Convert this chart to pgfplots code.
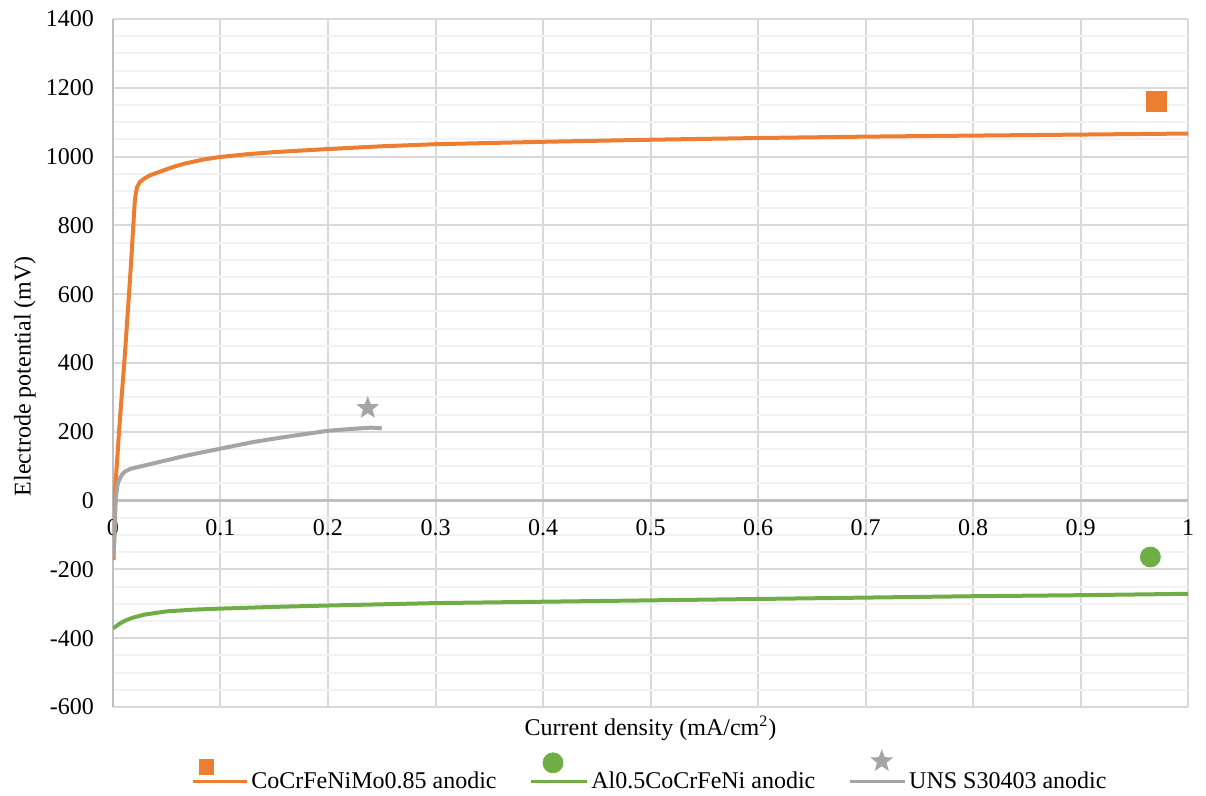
\documentclass[border=0pt]{standalone}
\usepackage{fontspec}
\setmainfont{Liberation Serif}
\usepackage{pgfplots}
\pgfplotsset{compat=1.18}
\definecolor{cOr}{HTML}{ED7D31}
\definecolor{cGr}{HTML}{70AD47}
\definecolor{cGy}{HTML}{A5A5A5}
\definecolor{gMaj}{HTML}{D9D9D9}
\definecolor{gMin}{HTML}{F2F2F2}
\definecolor{axC}{HTML}{BFBFBF}
\pgfdeclareplotmark{fstar}{%
  \pgfpathmoveto{\pgfpointpolar{90}{\pgfplotmarksize}}%
  \pgfpathlineto{\pgfpointpolar{126}{0.42\pgfplotmarksize}}%
  \pgfpathlineto{\pgfpointpolar{162}{\pgfplotmarksize}}%
  \pgfpathlineto{\pgfpointpolar{198}{0.42\pgfplotmarksize}}%
  \pgfpathlineto{\pgfpointpolar{234}{\pgfplotmarksize}}%
  \pgfpathlineto{\pgfpointpolar{270}{0.42\pgfplotmarksize}}%
  \pgfpathlineto{\pgfpointpolar{306}{\pgfplotmarksize}}%
  \pgfpathlineto{\pgfpointpolar{342}{0.42\pgfplotmarksize}}%
  \pgfpathlineto{\pgfpointpolar{18}{\pgfplotmarksize}}%
  \pgfpathlineto{\pgfpointpolar{54}{0.42\pgfplotmarksize}}%
  \pgfpathclose\pgfusepathqfill}
\begin{document}
\begin{tikzpicture}[font=\fontsize{12}{14.4}\selectfont]
\useasboundingbox (-56.5pt,-44.5pt) rectangle (546.5pt,353.5pt);
\begin{axis}[
  scale only axis, width=537.5pt, height=344pt,
  xmin=0, xmax=1, ymin=-600, ymax=1400,
  axis x line=middle, axis y line=left,
  axis line style={-, draw=axC, line width=1.2pt},
  hide obscured x ticks=false, hide obscured y ticks=false,
  xtick={0,0.1,...,1.01}, ytick={-600,-400,...,1400},
  minor y tick num=3,
  xmajorgrids, ymajorgrids, yminorgrids,
  major grid style={draw=gMaj, line width=1pt},
  minor grid style={draw=gMin, line width=1pt},
  major tick length=0pt, minor tick length=0pt,
  scaled ticks=false,
  /pgf/number format/assume math mode=true,
  /pgf/number format/1000 sep={},
  xticklabel style={yshift=-6pt, font=\fontsize{12}{14.4}\selectfont},
  yticklabel style={xshift=-6pt, font=\fontsize{12}{14.4}\selectfont},
  xlabel={Current density (mA/cm\textsuperscript{2})},
  ylabel={Electrode potential (mV)},
  xlabel style={at={(axis description cs:0.5,0)}, anchor=north, yshift=-1pt},
  ylabel style={at={(axis description cs:-0.0819,0.481)}, anchor=center, rotate=0},
  legend columns=3,
  legend style={at={(axis description cs:0.5,-0.055)}, anchor=north, draw=none, fill=none,
    font=\fontsize{12}{14.4}\selectfont, column sep=0pt,
    /tikz/every even column/.append style={column sep=15pt},
    nodes={inner xsep=1.5pt}},
]
% Orange
\addplot[cOr, line width=2pt, forget plot] coordinates {
(0.0005,-173) (0.0012,0) (0.0035,100) (0.0056,200) (0.008,300) (0.0105,400) (0.0127,500) (0.0149,600)
(0.017,700) (0.0189,800) (0.0203,870) (0.0213,895) (0.0225,912) (0.025,926) (0.029,936) (0.034,945) (0.04,952)
(0.048,961) (0.057,971) (0.067,980) (0.085,992) (0.1,999) (0.125,1007) (0.15,1013) (0.2,1022)
(0.25,1030) (0.3,1036) (0.4,1043) (0.5,1049) (0.6,1054) (0.7,1058) (0.8,1061) (0.9,1064) (1.0,1067)
};
% Green
\addplot[cGr, line width=2pt, forget plot] coordinates {
(0,-371) (0.003,-365) (0.006,-358) (0.01,-351) (0.015,-344) (0.02,-339) (0.03,-331) (0.05,-322)
(0.075,-317) (0.1,-314) (0.15,-309) (0.2,-305) (0.3,-298) (0.4,-294) (0.5,-290) (0.6,-286)
(0.7,-282) (0.8,-278) (0.9,-275) (1.0,-271)
};
% Gray
\addplot[cGy, line width=2pt, forget plot] coordinates {
(0.0005,-165) (0.0015,-100) (0.0022,-20) (0.0028,10) (0.0038,38) (0.005,55) (0.007,68) (0.009,78)
(0.011,84) (0.016,92) (0.024,98) (0.04,110) (0.067,130) (0.1,151) (0.13,170) (0.16,185)
(0.2,203) (0.22,208) (0.24,212) (0.25,210)
};
% markers
\addplot[only marks, mark=square*, mark size=5pt, color=cOr, forget plot] coordinates {(0.971,1159)};
\addplot[only marks, mark=*, mark size=5pt, color=cGr, forget plot] coordinates {(0.965,-164)};
\addplot[only marks, mark=fstar, mark size=6pt, color=cGy, forget plot] coordinates {(0.237,269)};
% legend
\addlegendimage{legend image code/.code={
  \draw[cOr, line width=1.4pt] (0pt,0pt) -- (27pt,0pt);
  \path[color=cOr] plot[mark=square*, mark size=3.6pt] coordinates {(6.75pt,7.5pt)};}}
\addlegendentry{CoCrFeNiMo0.85 anodic}
\addlegendimage{legend image code/.code={
  \draw[cGr, line width=1.4pt] (0pt,0pt) -- (28pt,0pt);
  \path[color=cGr] plot[mark=*, mark size=5pt] coordinates {(11pt,9.5pt)};}}
\addlegendentry{Al0.5CoCrFeNi anodic}
\addlegendimage{legend image code/.code={
  \draw[cGy, line width=1.4pt] (0pt,0pt) -- (27.5pt,0pt);
  \path[color=cGy] plot[mark=fstar, mark size=6pt] coordinates {(16pt,10.3pt)};}}
\addlegendentry{UNS S30403 anodic}
\end{axis}
\end{tikzpicture}
\end{document}
